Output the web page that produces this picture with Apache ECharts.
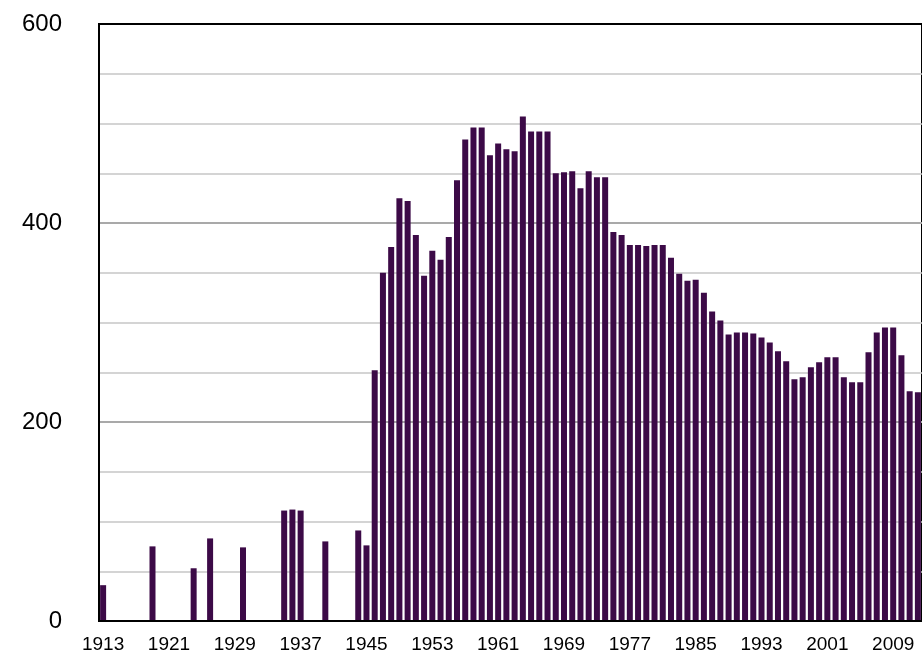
<!DOCTYPE html>
<html>
<head>
<meta charset="utf-8">
<script src="https://cdn.jsdelivr.net/npm/echarts@6/dist/echarts.min.js"></script>
<style>
html,body{margin:0;padding:0;background:#fff;}
#chart{width:922px;height:654px;}
</style>
</head>
<body>
<div id="chart"></div>
<script>
// Categories: years 1913..2012
var startYear = 1913;
var endYear = 2012;
var years = [];
for (var y = startYear; y <= endYear; y++) years.push(String(y));

// Values (null = no bar)
var values1913to1945 = [
  36, null, null, null, null, null, 75, null, null, null,   // 1913-1922
  null, 53, null, 83, null, null, null, 74, null, null,     // 1923-1932
  null, null, 111, 112, 111, null, null, 80, null, null,    // 1933-1942
  null, 91, 76                                              // 1943-1945
];
var values1946to1979 = [
  252, 350, 376, 425, 422, 388, 347, 372, 363, 386,         // 1946-1955
  443, 484, 496, 496, 468, 480, 474, 472, 507, 492,         // 1956-1965
  492, 492, 450, 451, 452, 435, 452, 446, 446, 391,         // 1966-1975
  388, 378, 378, 377                                        // 1976-1979
];
var values1980to2012 = [
  378, 378, 365, 349, 342, 343, 330, 311, 302, 288,         // 1980-1989
  290, 290, 289, 285, 280, 271, 261, 243, 245, 255,         // 1990-1999
  260, 265, 265, 245, 240, 240, 270, 290, 295, 295,         // 2000-2009
  267, 231, 230                                             // 2010-2012
];
var values = values1913to1945.concat(values1946to1979, values1980to2012);

// Y axis ticks
var yMin = 0, yMax = 600, yInterval = 200;

var font = "'Liberation Sans', Arial, Helvetica, sans-serif";
var chart = echarts.init(document.getElementById('chart'), null, {renderer: 'canvas'});
chart.setOption({
  animation: false,
  backgroundColor: '#ffffff',
  grid: {
    left: 99, top: 24, width: 830, height: 601,
    show: true, borderColor: '#000', borderWidth: 2, backgroundColor: 'transparent',
    containLabel: false
  },
  xAxis: [{
    type: 'category',
    data: years,
    boundaryGap: true,
    axisLine: {show: true, lineStyle: {color: '#000', width: 2}},
    axisTick: {show: false},
    axisLabel: {
      interval: 7, color: '#000', fontSize: 19, fontFamily: font, margin: 14,
      hideOverlap: false
    },
    splitLine: {show: false},
    z: 5
  }, {
    type: 'category',
    position: 'top',
    data: years,
    axisLine: {show: true, lineStyle: {color: '#000', width: 2}},
    axisTick: {show: false},
    axisLabel: {show: false},
    splitLine: {show: false},
    z: 5
  }],
  yAxis: {
    type: 'value',
    min: yMin, max: yMax, interval: yInterval,
    axisLine: {show: true, lineStyle: {color: '#000', width: 2}},
    axisTick: {show: false},
    axisLabel: {color: '#000', fontSize: 24, fontFamily: font, margin: 37},
    splitLine: {show: true, lineStyle: {color: '#a9a9a9', width: 2}},
    minorTick: {show: false, splitNumber: 4},
    minorSplitLine: {show: true, lineStyle: {color: '#c6c6c6', width: 1.5}}
  },
  series: [{
    type: 'bar',
    data: values,
    barWidth: 6,
    itemStyle: {color: '#3c0a47'},
    z: 3
  }]
});
</script>
</body>
</html>
